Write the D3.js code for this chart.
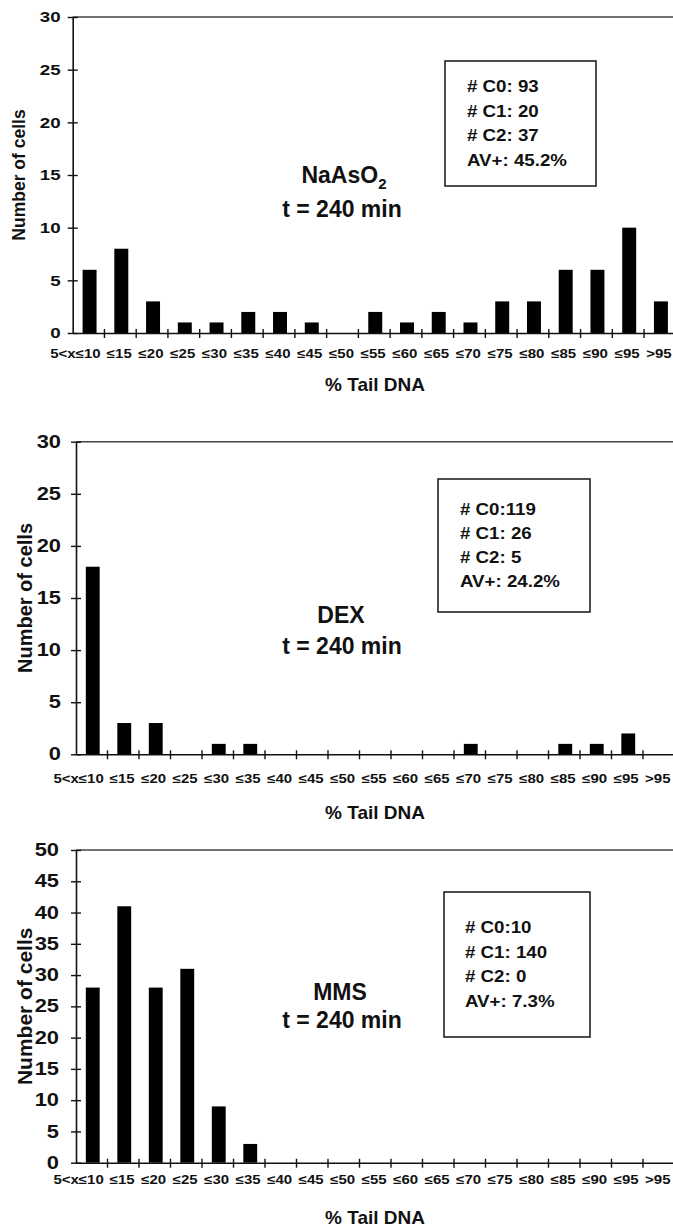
<!DOCTYPE html>
<html>
<head>
<meta charset="utf-8">
<script src="https://cdn.jsdelivr.net/npm/d3@7"></script>
<style>
  body { margin: 0; background: #fff; }
  svg text { font-family: "Liberation Sans", Arial, sans-serif; font-weight: bold; fill: #111; }
</style>
</head>
<body>
<div id="chart"></div>
<script>
// ------------------------------------------ Data ------------------------------------------
var categories = ["5<x≤10", "≤15", "≤20", "≤25", "≤30", "≤35", "≤40", "≤45", "≤50", "≤55",
                  "≤60", "≤65", "≤70", "≤75", "≤80", "≤85", "≤90", "≤95", ">95"];

var nasValues = [6, 8, 3, 1, 1, 2, 2, 1, 0, 2, 1, 2, 1, 3, 3, 6, 6, 10, 3];
var dexValues = [18, 3, 3, 0, 1, 1, 0, 0, 0, 0, 0, 0, 1, 0, 0, 1, 1, 2, 0];
var mmsValues = [28, 41, 28, 31, 9, 3, 0, 0, 0, 0, 0, 0, 0, 0, 0, 0, 0, 0, 0];

var yTicks30 = [0, 5, 10, 15, 20, 25, 30];
var yTicks50 = [0, 5, 10, 15, 20, 25, 30, 35, 40, 45, 50];

var nasStats = ["# C0: 93", "# C1: 20", "# C2: 37", "AV+: 45.2%"];
var dexStats = ["# C0:119", "# C1: 26", "# C2: 5", "AV+: 24.2%"];
var mmsStats = ["# C0:10", "# C1: 140", "# C2: 0", "AV+: 7.3%"];

var treatments = [["NaAsO", "2"], ["DEX", ""], ["MMS", ""]];
var timeLabel = "t = 240 min";
var xTitle = "% Tail DNA";
var yTitle = "Number of cells";

// ------------------------------------------ Layout ------------------------------------------
var page = {width: 673, height: 1227};

var panels = [
  {values: nasValues, ticks: yTicks30, stats: nasStats, name: treatments[0],
   left: 72.7, right: 675.8, top: 17, bottom: 333,
   tickFont: 15, tickGap: 12, yLabX: 25, yLabFont: 17.5, xLabGap: 25, xTitleY: 391,
   nameX: 344, nameY: 183, timeY: 217,
   box: {x: 445, y: 61, w: 151, h: 125, tx: 467, ty: 92.3, step: 24.5}},
  {values: dexValues, ticks: yTicks30, stats: dexStats, name: treatments[1],
   left: 76, right: 674.5, top: 441.7, bottom: 754.3,
   tickFont: 17.5, tickGap: 15, yLabX: 32, yLabFont: 20, xLabGap: 29, xTitleY: 819,
   nameX: 341, nameY: 623, timeY: 654,
   box: {x: 438, y: 479, w: 152, h: 133, tx: 460, ty: 515, step: 24}},
  {values: mmsValues, ticks: yTicks50, stats: mmsStats, name: treatments[2],
   left: 76, right: 674.5, top: 850, bottom: 1162.7,
   tickFont: 17.5, tickGap: 17, yLabX: 32, yLabFont: 21, xLabGap: 21, xTitleY: 1224,
   nameX: 340, nameY: 1000, timeY: 1028,
   box: {x: 444, y: 892, w: 146, h: 145, tx: 465, ty: 933, step: 24.7}}
];

var svg = d3.select("#chart")
  .append("svg")
    .attr("width", page.width)
    .attr("height", page.height);

// Text with a little horizontal stretch, like the original figure
function stretchText(g, x, y, str, size, sx, anchor) {
  return g.append("text")
    .attr("transform", "translate(" + x + "," + y + ") scale(" + sx + ",1)")
    .attr("text-anchor", anchor || "start")
    .attr("font-size", size)
    .text(str);
}

// ------------------------------------------ Panels ------------------------------------------
function draw_panel(p) {
  var g = svg.append("g");
  var yMax = p.ticks[p.ticks.length - 1];

  var x = d3.scaleBand()
    .domain(categories)
    .range([p.left, p.right])
    .paddingInner(0)
    .paddingOuter(0);

  var y = d3.scaleLinear()
    .domain([0, yMax])
    .range([p.bottom, p.top]);

  // top frame line
  g.append("line")
    .attr("x1", p.left).attr("x2", page.width)
    .attr("y1", y(yMax)).attr("y2", y(yMax))
    .attr("stroke", "#444").attr("stroke-width", 1.6);

  // bars
  var barW = x.bandwidth() * 0.44;
  g.selectAll(".bar")
    .data(p.values)
    .enter().append("rect")
      .attr("x", function(d, i) { return x(categories[i]) + (x.bandwidth() - barW) / 2 + 1; })
      .attr("y", function(d) { return y(d); })
      .attr("width", barW)
      .attr("height", function(d) { return y(0) - y(d); })
      .attr("fill", "#000");

  // y axis
  var sy = 1.25;
  var yAxis = g.append("g")
    .attr("transform", "translate(" + p.left + ",0)")
    .call(d3.axisLeft(y).tickValues(p.ticks).tickSize(5).tickSizeOuter(0).tickFormat(d3.format("d")));
  yAxis.select(".domain").attr("stroke", "#111").attr("stroke-width", 1.6);
  yAxis.selectAll(".tick line").attr("x1", 5).attr("stroke", "#111").attr("stroke-width", 1.4);
  yAxis.selectAll(".tick text")
    .attr("x", -p.tickGap / sy)
    .attr("transform", "scale(" + sy + ",1)")
    .attr("font-size", p.tickFont)
    .attr("font-family", null)
    .attr("fill", "#111");

  // x axis
  var sx = 1.2;
  var xAxis = g.append("g")
    .attr("transform", "translate(0," + p.bottom + ")")
    .call(d3.axisBottom(x).tickSize(0).tickSizeOuter(0));
  xAxis.select(".domain").attr("stroke", "#111").attr("stroke-width", 1.6);
  xAxis.selectAll(".tick text")
    .attr("y", p.xLabGap)
    .attr("dy", 0)
    .attr("transform", "scale(" + sx + ",1)")
    .attr("font-size", 12.5)
    .attr("font-family", null)
    .attr("fill", "#111")
    .attr("text-anchor", function(d, i) { return i === 0 ? "end" : "middle"; })
    .attr("x", function(d, i) { return i === 0 ? 12 / sx : -1 / sx; });

  // band boundary ticks crossing the x axis
  g.selectAll(".edge")
    .data(categories.slice(1))
    .enter().append("line")
      .attr("x1", function(d) { return x(d); })
      .attr("x2", function(d) { return x(d); })
      .attr("y1", p.bottom - 4)
      .attr("y2", p.bottom + 5)
      .attr("stroke", "#111").attr("stroke-width", 1.4);

  // axis titles
  g.append("text")
    .attr("transform", "translate(" + p.yLabX + "," + (p.top + p.bottom) / 2 + ") rotate(-90)")
    .attr("text-anchor", "middle")
    .attr("font-size", p.yLabFont)
    .text(yTitle);

  g.append("text")
    .attr("x", 375)
    .attr("y", p.xTitleY)
    .attr("text-anchor", "middle")
    .attr("font-size", 19)
    .text(xTitle);

  // treatment label
  var name = g.append("text")
    .attr("x", p.nameX)
    .attr("y", p.nameY)
    .attr("text-anchor", "middle")
    .attr("font-size", 23);
  name.append("tspan").text(p.name[0]);
  if (p.name[1]) {
    name.append("tspan").attr("dy", 6).attr("font-size", 15).text(p.name[1]);
  }

  g.append("text")
    .attr("x", 342)
    .attr("y", p.timeY)
    .attr("text-anchor", "middle")
    .attr("font-size", 23)
    .text(timeLabel);

  // stats box
  g.append("rect")
    .attr("x", p.box.x).attr("y", p.box.y)
    .attr("width", p.box.w).attr("height", p.box.h)
    .attr("fill", "none").attr("stroke", "#222").attr("stroke-width", 1.6);

  p.stats.forEach(function(s, i) {
    stretchText(g, p.box.tx, p.box.ty + i * p.box.step, s, 17, 1.1);
  });
}

panels.forEach(draw_panel);
</script>
</body>
</html>
